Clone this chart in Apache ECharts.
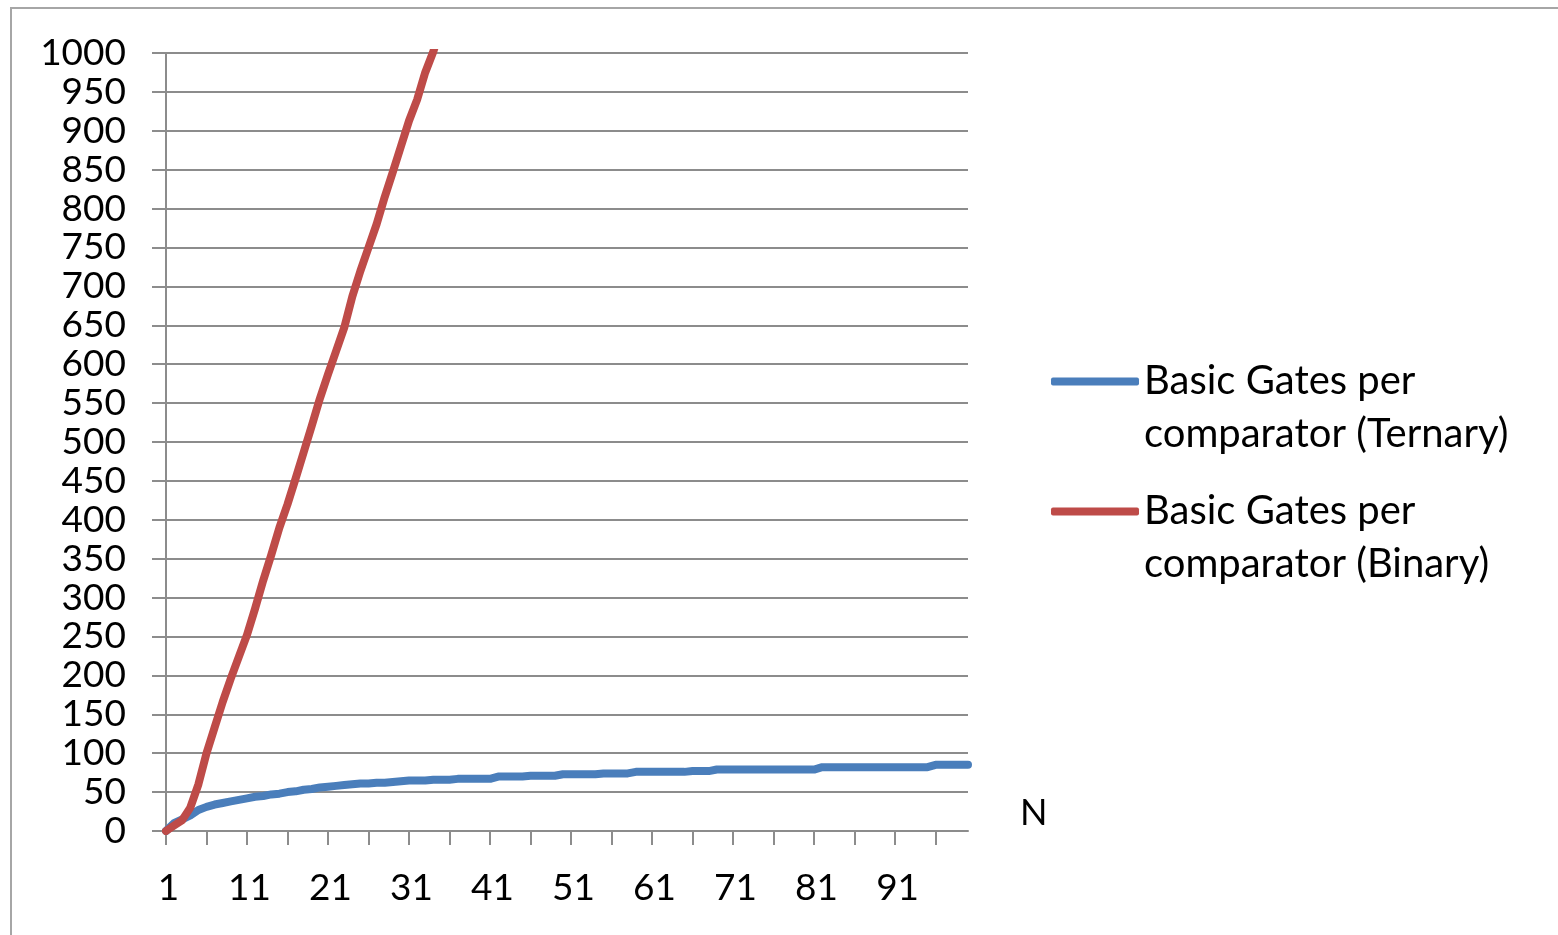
<!DOCTYPE html>
<html>
<head>
<meta charset="utf-8">
<script src="https://cdn.jsdelivr.net/npm/echarts@6/dist/echarts.min.js"></script>
<style>
  html, body { margin: 0; padding: 0; background: #fff; }
  #chart { width: 1558px; height: 935px; }
</style>
</head>
<body>
<div id="chart"></div>
<script>
// Word size N (1..100)
const nCategories = Array.from({ length: 100 }, (_, i) => String(i + 1));

// Basic gates per comparator, ternary logic
const ternaryGates = [
  0, 10, 15, 20, 27, 31, 34, 36, 38, 40,
  42, 44, 45, 47, 48, 50, 51, 53, 54, 56,
  57, 58, 59, 60, 61, 61, 62, 62, 63, 64,
  65, 65, 65, 66, 66, 66, 67, 67, 67, 67,
  67, 70, 70, 70, 70, 71, 71, 71, 71, 73,
  73, 73, 73, 73, 74, 74, 74, 74, 76, 76,
  76, 76, 76, 76, 76, 77, 77, 77, 79, 79,
  79, 79, 79, 79, 79, 79, 79, 79, 79, 79,
  79, 82, 82, 82, 82, 82, 82, 82, 82, 82,
  82, 82, 82, 82, 82, 85, 85, 85, 85, 85
];

// Basic gates per comparator, binary logic (runs off the top of the scale)
const binaryGates = [
  0, 7, 14, 30, 60, 100, 133, 166, 196, 224,
  252, 286, 322, 355, 390, 420, 453, 487, 521, 556,
  587, 617, 647, 687, 720, 750, 780, 815, 847, 880,
  913, 940, 975, 1002, 1035
];

const seriesNames = [
  'Basic Gates per comparator (Ternary)',
  'Basic Gates per comparator (Binary)'
];

const FONT = 'Lato, "Open Sans", sans-serif';
const GRID_GREY = '#8c8c8c';

const chart = echarts.init(document.getElementById('chart'));
chart.setOption({
  backgroundColor: '#fff',
  animation: false,
  graphic: [{
    type: 'rect',
    shape: { x: 11, y: 8, width: 1600, height: 1000 },
    style: { fill: 'none', stroke: '#a6a6a6', lineWidth: 2 },
    silent: true
  }],
  grid: { left: 166, right: 590, top: 53, bottom: 104 },
  legend: {
    orient: 'vertical',
    left: 1046,
    top: 297,
    itemWidth: 88,
    itemHeight: 8,
    itemGap: -29,
    icon: 'roundRect',
    data: seriesNames,
    // a blank first line keeps the swatch level with the first text line
    formatter: name => ' \n' + name.replace(' comparator', '\ncomparator'),
    textStyle: {
      fontFamily: FONT, fontSize: 40, color: '#000', lineHeight: 53
    }
  },
  xAxis: {
    type: 'category',
    data: nCategories,
    boundaryGap: false,
    name: 'N',
    nameLocation: 'end',
    nameGap: 52,
    nameTextStyle: { fontFamily: FONT, fontSize: 36, color: '#000', verticalAlign: 'bottom', padding: [0, 0, 0, 0] },
    axisLine: { lineStyle: { color: GRID_GREY, width: 2 } },
    axisTick: { show: true, interval: 4, length: 14, inside: false, lineStyle: { color: GRID_GREY, width: 2 } },
    axisLabel: { interval: 9, margin: 39, fontFamily: FONT, fontSize: 37, color: '#000', padding: [0, 0, 0, 5] },
    splitLine: { show: false }
  },
  yAxis: {
    type: 'value',
    min: 0,
    max: 1000,
    interval: 50,
    axisLine: { show: true, lineStyle: { color: GRID_GREY, width: 2 } },
    axisTick: { show: true, length: 14, lineStyle: { color: GRID_GREY, width: 2 } },
    axisLabel: { margin: 40, fontFamily: FONT, fontSize: 37, color: '#000', formatter: v => String(v) },
    splitLine: { show: true, lineStyle: { color: GRID_GREY, width: 2 } }
  },
  series: [
    {
      name: seriesNames[0],
      type: 'line',
      data: ternaryGates,
      symbol: 'none',
      clip: true,
      color: '#4a7ebb',
      lineStyle: { width: 8, color: '#4a7ebb', cap: 'round', join: 'round' }
    },
    {
      name: seriesNames[1],
      type: 'line',
      data: binaryGates,
      symbol: 'none',
      clip: true,
      color: '#be4b48',
      lineStyle: { width: 8, color: '#be4b48', cap: 'round', join: 'round' }
    }
  ]
});
</script>
</body>
</html>
